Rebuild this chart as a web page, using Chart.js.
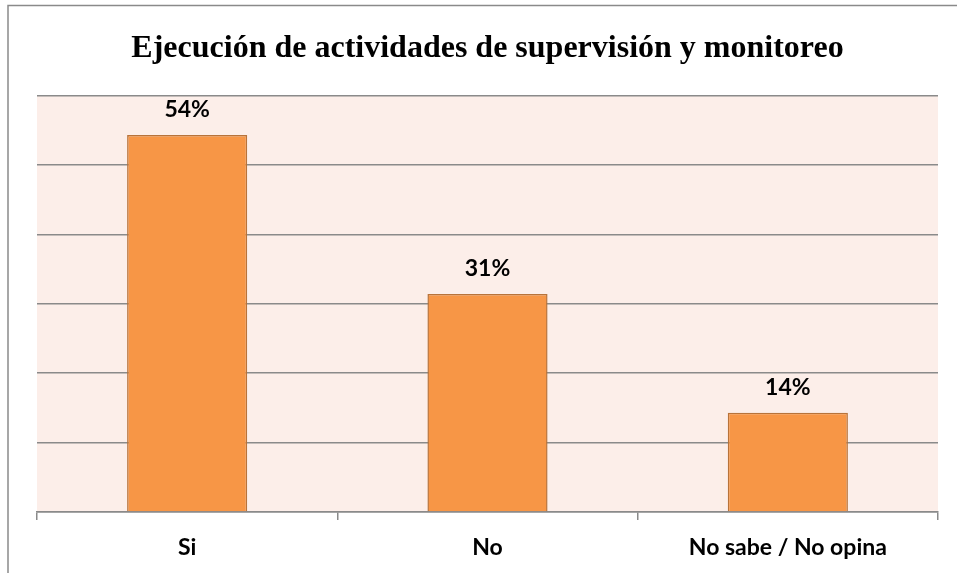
<!DOCTYPE html>
<html>
<head>
<meta charset="utf-8">
<script src="https://cdn.jsdelivr.net/npm/chart.js@4.4.0/dist/chart.umd.min.js"></script>
<style>
  html, body { margin: 0; padding: 0; background: #fff; }
  #wrap { width: 957px; height: 573px; }
</style>
</head>
<body>
<div id="wrap"><canvas id="supervisionChart"></canvas></div>
<script>
// Datos del gráfico
const categorias = ['Si', 'No', 'No sabe / No opina'];
const porcentajes = [54.3, 31.4, 14.3];
const etiquetas = ['54%', '31%', '14%'];

// Fondo del área de trazado y marco exterior
const fondoPlugin = {
    id: 'fondo',
    beforeDraw(chart) {
        const { ctx, chartArea } = chart;
        ctx.save();
        ctx.fillStyle = '#FCEEE9';
        ctx.fillRect(chartArea.left, chartArea.top, chartArea.right - chartArea.left, chartArea.bottom - chartArea.top);
        ctx.strokeStyle = '#8a8a8a';
        ctx.lineWidth = 1.5;
        ctx.beginPath();
        ctx.moveTo(8, 573);
        ctx.lineTo(8, 5.5);
        ctx.lineTo(957, 5.5);
        ctx.stroke();
        ctx.restore();
    }
};

// Etiquetas de porcentaje sobre las barras
const etiquetasPlugin = {
    id: 'etiquetas',
    afterDatasetsDraw(chart) {
        const { ctx } = chart;
        const meta = chart.getDatasetMeta(0);
        ctx.save();
        ctx.font = 'bold 23px Lato';
        ctx.fillStyle = '#000';
        ctx.textAlign = 'center';
        ctx.textBaseline = 'middle';
        meta.data.forEach((bar, i) => {
            ctx.fillText(etiquetas[i], bar.x, bar.y - 25);
        });
        ctx.restore();
    }
};

const ctx = document.getElementById('supervisionChart').getContext('2d');
new Chart(ctx, {
    type: 'bar',
    data: {
        labels: categorias,
        datasets: [{
            data: porcentajes,
            backgroundColor: '#F79646',
            borderColor: '#B8733A',
            borderWidth: 1.5,
            categoryPercentage: 1,
            barPercentage: 0.4
        }]
    },
    options: {
        responsive: true,
        maintainAspectRatio: false,
        animation: false,
        layout: { padding: { left: 37, right: 19, top: 0, bottom: 11 } },
        plugins: {
            legend: { display: false },
            tooltip: { enabled: false },
            title: {
                display: true,
                text: 'Ejecución de actividades de supervisión y monitoreo',
                color: '#000',
                font: { family: 'Liberation Serif', size: 32, weight: 'bold' },
                padding: { top: 30, bottom: 27 }
            }
        },
        scales: {
            x: {
                grid: { drawOnChartArea: false, drawTicks: true, tickLength: 8, color: '#8a8a8a', lineWidth: 1.5 },
                border: { display: true, color: '#8a8a8a', width: 1.5 },
                ticks: { color: '#000', font: { family: 'Lato', size: 23, weight: 'bold' }, padding: 14, maxRotation: 0 },
                afterFit(scale) { scale.height = 50; }
            },
            y: {
                min: 0,
                max: 60,
                ticks: { display: false, stepSize: 10 },
                grid: { drawTicks: false, color: '#8a8a8a', lineWidth: 1.5 },
                border: { display: false }
            }
        }
    },
    plugins: [fondoPlugin, etiquetasPlugin]
});
</script>
</body>
</html>
